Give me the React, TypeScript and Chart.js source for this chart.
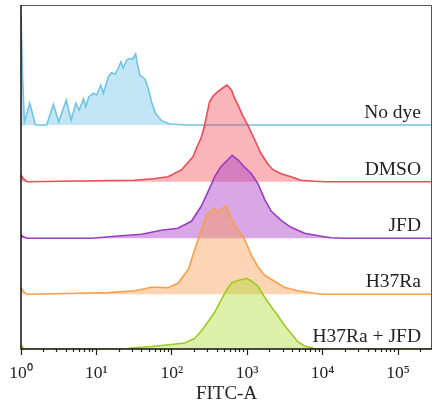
import React, { useEffect, useRef } from 'react';
import { Chart, registerables } from 'chart.js';

Chart.register(...registerables);

// ---- axis / tick definitions ----
const X_MAX_LOG = 5.45;
const MAJOR_TICKS = [1, 10, 100, 1000, 10000, 100000];
const MAJOR_LABELS = ['10⁰', '10¹', '10²', '10³', '10⁴', '10⁵'];
const MINOR_MULTIPLIERS = [2, 3, 4, 5, 6, 7, 8, 9];
const X_TITLE = 'FITC-A';

// ---- series ----
const SERIES_NAMES = ['No dye', 'DMSO', 'JFD', 'H37Ra', 'H37Ra + JFD'];
const SERIES_OFFSETS = [224, 167.3, 110.7, 54.7, 0];
const Y_MAX = 344;

// log10(FITC-A) positions and counts for each histogram
const NO_DYE_LOGX = [0, 0.02, 0.045, 0.08, 0.115, 0.15, 0.19, 0.34, 0.43, 0.5, 0.6, 0.665, 0.727, 0.77, 0.828, 0.859, 0.9, 0.96, 1.004, 1.057, 1.092, 1.158, 1.2, 1.246, 1.28, 1.325, 1.356, 1.4, 1.444, 1.475, 1.519, 1.546, 1.576, 1.642, 1.687, 1.73, 1.783, 1.863, 1.972, 2.2, 5.45];
const NO_DYE_COUNTS = [110, 50, 3, 12, 21.7, 12, 0, 0, 20.7, 3.3, 25, 5, 21.7, 15, 26, 18.3, 28.3, 31.7, 30, 40, 31.7, 48.3, 52.3, 51, 55, 63.3, 56.7, 65, 66.7, 65.7, 71, 60, 50, 46, 36.7, 23.3, 11.7, 4.3, 1, 0, 0];

const DMSO_LOGX = [0, 0.03, 0.08, 1.0, 1.5, 1.75, 1.95, 2.13, 2.28, 2.34, 2.39, 2.43, 2.5, 2.55, 2.61, 2.68, 2.73, 2.79, 2.83, 2.88, 2.94, 3.01, 3.1, 3.18, 3.27, 3.34, 3.45, 3.58, 3.71, 3.9, 4.05, 5.45];
const DMSO_COUNTS = [6.7, 3, 0, 1, 1.5, 3, 5, 12, 25, 36, 44, 55, 80, 86, 90, 94, 96.7, 91.7, 84, 76, 66, 56, 41.7, 28.4, 18, 12, 8, 5, 1.5, 0.5, 0, 0];

const JFD_LOGX = [0, 0.03, 0.08, 0.94, 1.29, 1.6, 1.73, 1.86, 2.08, 2.26, 2.39, 2.5, 2.57, 2.65, 2.74, 2.8, 2.88, 2.96, 3.05, 3.14, 3.23, 3.32, 3.45, 3.58, 3.76, 4.02, 4.11, 4.3, 5.45];
const JFD_COUNTS = [3.3, 1.5, 0, 0, 2.3, 4, 6, 8, 10, 17, 32, 50, 62, 71.6, 78.3, 83, 78.3, 71.6, 65, 55, 39, 27, 18, 11, 5, 1.6, 0.5, 0, 0];

const H37RA_LOGX = [0, 0.03, 0.08, 0.76, 1.16, 1.51, 1.73, 1.82, 1.95, 2.08, 2.22, 2.3, 2.39, 2.46, 2.52, 2.56, 2.61, 2.68, 2.72, 2.79, 2.88, 2.96, 3.05, 3.14, 3.23, 3.36, 3.49, 3.67, 3.93, 4.02, 5.45];
const H37RA_COUNTS = [7, 3, 0, 1, 1.7, 3.6, 7, 7, 6.5, 11, 25, 44, 64, 79, 83, 86, 82, 86, 88.3, 76, 64, 56, 40, 27.6, 19, 13, 7, 3.5, 0.5, 0, 0];

const H37RA_JFD_LOGX = [0, 0.02, 0.04, 1.4, 1.47, 1.73, 1.99, 2.17, 2.3, 2.39, 2.43, 2.57, 2.7, 2.79, 2.88, 2.99, 3.05, 3.14, 3.23, 3.32, 3.4, 3.49, 3.58, 3.67, 3.76, 3.89, 4.0, 5.45];
const H37RA_JFD_COUNTS = [4, 2, 0, 0, 1, 2.5, 4.5, 6, 10.5, 18, 22, 37, 55.7, 66, 68.5, 70.7, 68.3, 63, 52, 42, 34, 24, 15.7, 7.3, 3, 0.5, 0, 0];

const SERIES_LOGX = [NO_DYE_LOGX, DMSO_LOGX, JFD_LOGX, H37RA_LOGX, H37RA_JFD_LOGX];
const SERIES_COUNTS = [NO_DYE_COUNTS, DMSO_COUNTS, JFD_COUNTS, H37RA_COUNTS, H37RA_JFD_COUNTS];

const LINE_COLORS = ['#72c4e4', '#ef4a55', '#9a3cc0', '#f7a04a', '#9acd20'];
const FILL_COLORS = [
  'rgba(120,200,235,0.45)',
  'rgba(240,70,80,0.40)',
  'rgba(170,60,200,0.45)',
  'rgba(250,150,70,0.40)',
  'rgba(165,215,30,0.38)',
];

const FONT_FAMILY = '"Liberation Serif", "Times New Roman", serif';

const isMajor = (v: number) => MAJOR_TICKS.indexOf(v) >= 0;

const sideLabels = {
  id: 'sideLabels',
  afterDatasetsDraw(chart: any) {
    const { ctx, chartArea, scales } = chart;
    const y = scales.y;
    ctx.save();
    ctx.font = `19.5px ${FONT_FAMILY}`;
    ctx.fillStyle = '#222';
    ctx.textAlign = 'right';
    ctx.textBaseline = 'alphabetic';
    SERIES_NAMES.forEach((name, i) => {
      ctx.fillText(name, chartArea.right - 11, y.getPixelForValue(SERIES_OFFSETS[i]) - 7);
    });
    // frame
    ctx.lineWidth = 1;
    ctx.strokeStyle = '#555';
    ctx.beginPath();
    ctx.moveTo(chartArea.left, chartArea.top + 0.5);
    ctx.lineTo(chartArea.right - 0.5, chartArea.top + 0.5);
    ctx.lineTo(chartArea.right - 0.5, chartArea.bottom);
    ctx.stroke();
    ctx.lineWidth = 1.5;
    ctx.strokeStyle = '#111';
    ctx.beginPath();
    ctx.moveTo(chartArea.left, chartArea.top);
    ctx.lineTo(chartArea.left, chartArea.bottom);
    ctx.lineTo(chartArea.right, chartArea.bottom);
    ctx.stroke();
    ctx.restore();
  },
};

export default function App() {
  const canvasRef = useRef<HTMLCanvasElement | null>(null);

  useEffect(() => {
    const canvas = canvasRef.current;
    if (!canvas) return;

    const order = [4, 3, 2, 1, 0];
    const datasets = SERIES_NAMES.map((name, i) => ({
      label: name,
      data: SERIES_LOGX[i].map((t, k) => ({ x: Math.pow(10, t), y: SERIES_OFFSETS[i] + SERIES_COUNTS[i][k] })),
      borderColor: LINE_COLORS[i],
      backgroundColor: FILL_COLORS[i],
      borderWidth: 1.6,
      pointRadius: 0,
      tension: 0,
      fill: { value: SERIES_OFFSETS[i] },
      order: order[i],
    }));

    const tickValues: number[] = [];
    MAJOR_TICKS.forEach((m) => {
      tickValues.push(m);
      MINOR_MULTIPLIERS.forEach((k) => {
        const v = m * k;
        if (Math.log10(v) <= X_MAX_LOG) tickValues.push(v);
      });
    });

    const chart = new Chart(canvas, {
      type: 'line',
      data: { datasets },
      plugins: [sideLabels],
      options: {
        animation: false,
        responsive: false,
        devicePixelRatio: 1,
        layout: { padding: { left: 19, right: 4, top: 5, bottom: 0 } },
        plugins: {
          legend: { display: false },
          tooltip: { enabled: false },
        },
        scales: {
          x: {
            type: 'logarithmic',
            min: 1,
            max: Math.pow(10, X_MAX_LOG),
            afterBuildTicks: (axis: any) => {
              axis.ticks = tickValues.map((v) => ({ value: v, major: isMajor(v) }));
            },
            border: { display: false },
            grid: {
              drawOnChartArea: false,
              drawTicks: true,
              tickLength: 6,
              tickColor: '#222',
              tickWidth: 1.2,
              tickBorderDash: (ctx: any) => (ctx.tick && isMajor(ctx.tick.value) ? [] : [3, 20]),
            },
            ticks: {
              autoSkip: false,
              maxRotation: 0,
              padding: 9.25,
              color: '#222',
              font: { family: FONT_FAMILY, size: 17.5, lineHeight: 1.0 },
              callback: (value: any) => {
                const idx = MAJOR_TICKS.indexOf(Number(value));
                return idx >= 0 ? MAJOR_LABELS[idx] : '';
              },
            },
            title: {
              display: true,
              text: X_TITLE,
              color: '#222',
              font: { family: FONT_FAMILY, size: 19, lineHeight: 1.2 },
              padding: { top: -8.4, bottom: 7.6 },
            },
          },
          y: {
            type: 'linear',
            min: 0,
            max: Y_MAX,
            display: false,
          },
        },
      },
    });

    return () => chart.destroy();
  }, []);

  return (
    <div style={{ position: 'fixed', left: 0, top: 0, width: 436, height: 413, background: '#fff' }}>
      <canvas ref={canvasRef} width={436} height={413} style={{ display: 'block' }} />
    </div>
  );
}
